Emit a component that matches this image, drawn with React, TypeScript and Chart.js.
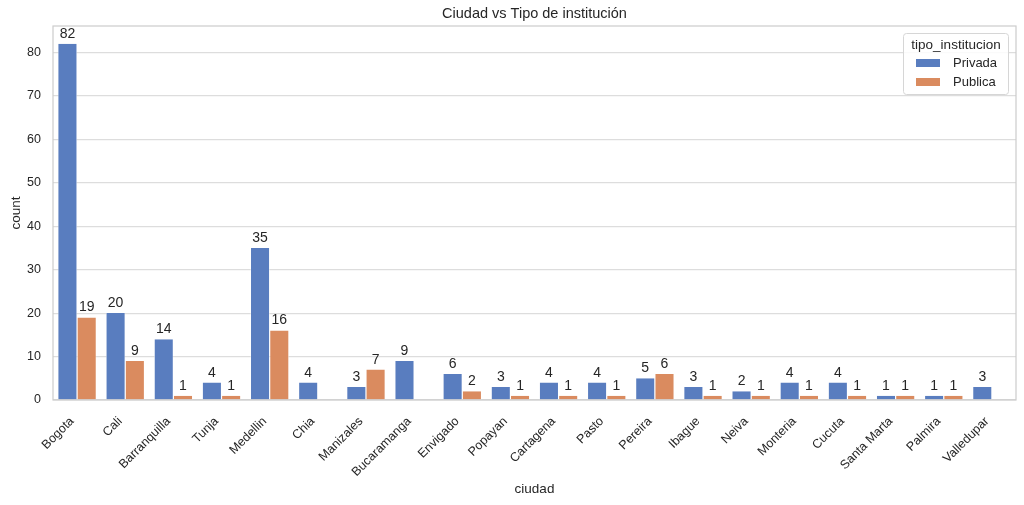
import React, { useEffect, useRef } from "react";
import { Chart, registerables } from "chart.js";

Chart.register(...registerables);

const ciudades = [
  "Bogota", "Cali", "Barranquilla", "Tunja", "Medellin", "Chia", "Manizales",
  "Bucaramanga", "Envigado", "Popayan", "Cartagena", "Pasto", "Pereira", "Ibague",
  "Neiva", "Monteria", "Cucuta", "Santa Marta", "Palmira", "Valledupar",
];
const privada: (number | null)[] = [82, 20, 14, 4, 35, 4, 3, 9, 6, 3, 4, 4, 5, 3, 2, 4, 4, 1, 1, 3];
const publica: (number | null)[] = [19, 9, 1, 1, 16, null, 7, null, 2, 1, 1, 1, 6, 1, 1, 1, 1, 1, 1, null];
const yTicks = [0, 10, 20, 30, 40, 50, 60, 70, 80];

const FONT = "'Liberation Sans', Arial, sans-serif";
const TXT = "#262626";
const BLUE = "#597dbf";
const ORANGE = "#da8b5f";

const decorPlugin = {
  id: "decor",
  afterDraw(chart: any) {
    const { ctx, chartArea } = chart;
    ctx.save();
    // frame
    ctx.strokeStyle = "#cccccc";
    ctx.lineWidth = 1.2;
    ctx.strokeRect(chartArea.left, chartArea.top, chartArea.right - chartArea.left, chartArea.bottom - chartArea.top);
    // title
    ctx.fillStyle = TXT;
    ctx.font = `14.5px ${FONT}`;
    ctx.textAlign = "center";
    ctx.textBaseline = "middle";
    ctx.fillText("Ciudad vs Tipo de institución", (chartArea.left + chartArea.right) / 2, 14);
    // data labels
    ctx.font = `14px ${FONT}`;
    ctx.textBaseline = "alphabetic";
    chart.data.datasets.forEach((ds: any, di: number) => {
      const meta = chart.getDatasetMeta(di);
      meta.data.forEach((bar: any, i: number) => {
        const v = ds.data[i];
        if (v === null || v === undefined) return;
        ctx.fillText(String(v), bar.x, bar.y - 6);
      });
    });
    // legend
    const w = 105, h = 61;
    const x0 = chartArea.right - 8 - w;
    const y0 = chartArea.top + 7;
    ctx.fillStyle = "rgba(255,255,255,0.85)";
    ctx.strokeStyle = "#d6d6d6";
    ctx.lineWidth = 1;
    ctx.beginPath();
    ctx.roundRect(x0 + 0.5, y0 + 0.5, w, h, 3);
    ctx.fill();
    ctx.stroke();
    ctx.fillStyle = TXT;
    ctx.font = `13.5px ${FONT}`;
    ctx.textAlign = "center";
    ctx.textBaseline = "middle";
    ctx.fillText("tipo_institucion", x0 + w / 2 + 0.5, y0 + 12);
    ctx.textAlign = "left";
    chart.data.datasets.forEach((ds: any, di: number) => {
      const cy = y0 + 30 + di * 19;
      ctx.fillStyle = ds.backgroundColor;
      ctx.fillRect(x0 + 13, cy - 4, 24, 8);
      ctx.fillStyle = TXT;
      ctx.font = `13px ${FONT}`;
      ctx.fillText(ds.label, x0 + 50, cy);
    });
    ctx.restore();
  },
};

export default function App() {
  const ref = useRef<HTMLCanvasElement | null>(null);
  useEffect(() => {
    document.body.style.margin = "0";
    const chart = new Chart(ref.current as HTMLCanvasElement, {
      type: "bar",
      data: {
        labels: ciudades,
        datasets: [
          {
            label: "Privada",
            data: privada,
            backgroundColor: BLUE,
            borderColor: "#ffffff",
            borderWidth: { left: 0.6, right: 0.6, top: 0, bottom: 0 },
            categoryPercentage: 0.8,
            barPercentage: 1,
          },
          {
            label: "Publica",
            data: publica,
            backgroundColor: ORANGE,
            borderColor: "#ffffff",
            borderWidth: { left: 0.6, right: 0.6, top: 0, bottom: 0 },
            categoryPercentage: 0.8,
            barPercentage: 1,
          },
        ],
      } as any,
      options: {
        animation: false,
        responsive: false,
        maintainAspectRatio: false,
        layout: { padding: { top: 26, right: 8, left: 0, bottom: 0 } },
        plugins: {
          legend: { display: false },
          title: { display: false },
          tooltip: { enabled: false },
        },
        scales: {
          x: {
            grid: { display: false, drawTicks: false },
            border: { display: false },
            ticks: {
              color: TXT,
              font: { family: FONT, size: 12.5 },
              maxRotation: 45,
              minRotation: 45,
              padding: 14,
              labelOffset: -5,
              autoSkip: false,
            },
            title: {
              display: true,
              text: "ciudad",
              color: TXT,
              font: { family: FONT, size: 13.5 },
              padding: { top: 0, bottom: 8 },
            },
            afterFit: (s: any) => { s.height = 105; },
          },
          y: {
            min: 0,
            max: 86.1,
            afterBuildTicks: (s: any) => { s.ticks = yTicks.map((v) => ({ value: v })); },
            grid: { color: "#dddddd", lineWidth: 1.2, drawTicks: false },
            border: { display: false },
            ticks: {
              color: TXT,
              font: { family: FONT, size: 12.5 },
              padding: 12,
            },
            title: {
              display: true,
              text: "count",
              color: TXT,
              font: { family: FONT, size: 13.5 },
              padding: { top: 8, bottom: 0 },
            },
            afterFit: (s: any) => { s.width = 53; },
          },
        },
      },
      plugins: [decorPlugin],
    } as any);
    return () => chart.destroy();
  }, []);
  return (
    <div style={{ width: 1024, height: 505 }}>
      <canvas ref={ref} width={1024} height={505} style={{ width: 1024, height: 505 }} />
    </div>
  );
}
